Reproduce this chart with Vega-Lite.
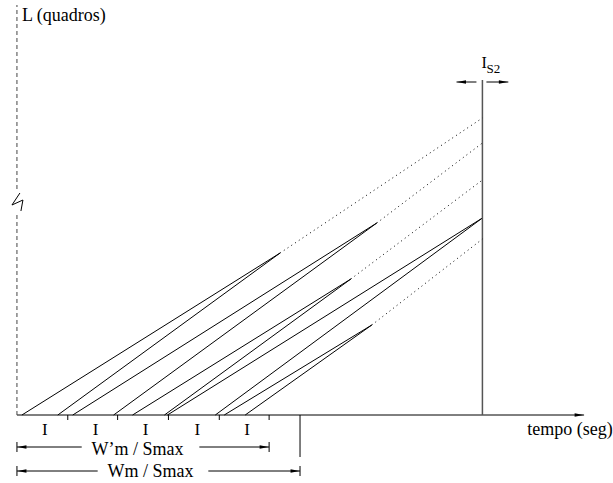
{
  "$schema": "https://vega.github.io/schema/vega-lite/v6.json",
  "width": 613,
  "height": 483,
  "autosize": {"type": "fit", "contains": "padding"},
  "padding": 0,
  "background": "white",
  "config": {"view": {"stroke": null}},
  "datasets": {
    "seg": [
      {"t": 0, "L": 0, "t2": 569, "L2": 0, "k": "s"},
      {"t": 5, "L": 0, "t2": 264, "L2": 162, "k": "s"},
      {"t": 41, "L": 0, "t2": 264, "L2": 162, "k": "s"},
      {"t": 56, "L": 0, "t2": 361, "L2": 192, "k": "s"},
      {"t": 97, "L": 0, "t2": 361, "L2": 192, "k": "s"},
      {"t": 116, "L": 0, "t2": 335, "L2": 136, "k": "s"},
      {"t": 148, "L": 0, "t2": 335, "L2": 136, "k": "s"},
      {"t": 151, "L": 0, "t2": 467, "L2": 197, "k": "s"},
      {"t": 199, "L": 0, "t2": 467, "L2": 197, "k": "s"},
      {"t": 208, "L": 0, "t2": 356, "L2": 90, "k": "s"},
      {"t": 229, "L": 0, "t2": 356, "L2": 90, "k": "s"},
      {"t": 51, "L": 0, "t2": 51, "L2": -5, "k": "s"},
      {"t": 101, "L": 0, "t2": 101, "L2": -5, "k": "s"},
      {"t": 152, "L": 0, "t2": 152, "L2": -5, "k": "s"},
      {"t": 203, "L": 0, "t2": 203, "L2": -5, "k": "s"},
      {"t": 253, "L": 0, "t2": 253, "L2": -5, "k": "s"},
      {"t": 284, "L": 0, "t2": 284, "L2": -42, "k": "s"},
      {"t": 0, "L": -32, "t2": 65, "L2": -32, "k": "s"},
      {"t": 183, "L": -32, "t2": 253, "L2": -32, "k": "s"},
      {"t": 0, "L": -56, "t2": 81, "L2": -56, "k": "s"},
      {"t": 192, "L": -56, "t2": 284, "L2": -56, "k": "s"},
      {"t": 0, "L": -37, "t2": 0, "L2": -27, "k": "s"},
      {"t": 253, "L": -37, "t2": 253, "L2": -27, "k": "s"},
      {"t": 0, "L": -61, "t2": 0, "L2": -51, "k": "s"},
      {"t": 284, "L": -61, "t2": 284, "L2": -51, "k": "s"},
      {"t": 441, "L": 333, "t2": 461, "L2": 333, "k": "s"},
      {"t": 471, "L": 333, "t2": 493, "L2": 333, "k": "s"},
      {"t": 467, "L": 0, "t2": 467, "L2": 335, "k": "g"},
      {"t": 264, "L": 162, "t2": 467, "L2": 297, "k": "d"},
      {"t": 361, "L": 192, "t2": 467, "L2": 272, "k": "d"},
      {"t": 335, "L": 136, "t2": 467, "L2": 235, "k": "d"},
      {"t": 356, "L": 90, "t2": 467, "L2": 176, "k": "d"},
      {"t": 0, "L": 0, "t2": 0, "L2": 200, "k": "a"},
      {"t": 0, "L": 226, "t2": 0, "L2": 410, "k": "a"}
    ],
    "brk": [
      {"o": 1, "t": 3, "L": 222},
      {"o": 2, "t": -5, "L": 210},
      {"o": 3, "t": 6, "L": 215},
      {"o": 4, "t": 4, "L": 204}
    ],
    "heads": [
      {"t": 564, "L": 0, "ang": 0},
      {"t": 5, "L": -32, "ang": 180},
      {"t": 248, "L": -32, "ang": 0},
      {"t": 5, "L": -56, "ang": 180},
      {"t": 279, "L": -56, "ang": 0},
      {"t": 446, "L": 333, "ang": 180},
      {"t": 488, "L": 333, "ang": 0}
    ],
    "itext": [
      {"t": 28, "L": -15, "txt": "I"},
      {"t": 79, "L": -15, "txt": "I"},
      {"t": 129, "L": -15, "txt": "I"},
      {"t": 181, "L": -15, "txt": "I"},
      {"t": 231, "L": -15, "txt": "I"}
    ],
    "ctext": [
      {"t": 121, "L": -35, "txt": "W’m / Smax"},
      {"t": 134, "L": -57, "txt": "Wm / Smax"}
    ],
    "ltext": [
      {"t": 5, "L": 399, "txt": "L (quadros)"},
      {"t": 512, "L": -15, "txt": "tempo (seg)"}
    ]
  },
  "layer": [
    {
      "data": {"name": "seg"},
      "transform": [{"filter": "datum.k == 's'"}],
      "mark": {"type": "rule", "color": "black", "strokeWidth": 1},
      "encoding": {
        "x": {"field": "t", "type": "quantitative", "scale": {"domain": [-17, 596], "nice": false, "zero": false}, "axis": null},
        "y": {"field": "L", "type": "quantitative", "scale": {"domain": [-68, 415], "nice": false, "zero": false}, "axis": null},
        "x2": {"field": "t2"},
        "y2": {"field": "L2"}
      }
    },
    {
      "data": {"name": "seg"},
      "transform": [{"filter": "datum.k == 'g'"}],
      "mark": {"type": "rule", "color": "#555555", "strokeWidth": 1.5},
      "encoding": {
        "x": {"field": "t", "type": "quantitative"},
        "y": {"field": "L", "type": "quantitative"},
        "x2": {"field": "t2"},
        "y2": {"field": "L2"}
      }
    },
    {
      "data": {"name": "seg"},
      "transform": [{"filter": "datum.k == 'd'"}],
      "mark": {"type": "rule", "color": "black", "strokeWidth": 1, "strokeDash": [1, 3.5]},
      "encoding": {
        "x": {"field": "t", "type": "quantitative"},
        "y": {"field": "L", "type": "quantitative"},
        "x2": {"field": "t2"},
        "y2": {"field": "L2"}
      }
    },
    {
      "data": {"name": "seg"},
      "transform": [{"filter": "datum.k == 'a'"}],
      "mark": {"type": "rule", "color": "#444444", "strokeWidth": 1, "strokeDash": [4, 3]},
      "encoding": {
        "x": {"field": "t", "type": "quantitative"},
        "y": {"field": "L", "type": "quantitative"},
        "x2": {"field": "t2"},
        "y2": {"field": "L2"}
      }
    },
    {
      "data": {"name": "brk"},
      "mark": {"type": "line", "color": "black", "strokeWidth": 1},
      "encoding": {
        "x": {"field": "t", "type": "quantitative"},
        "y": {"field": "L", "type": "quantitative"},
        "order": {"field": "o"}
      }
    },
    {
      "data": {"name": "heads"},
      "mark": {"type": "point", "shape": "M1,0L-1,-0.4L-1,0.4Z", "filled": true, "color": "black", "size": 81, "opacity": 1},
      "encoding": {
        "x": {"field": "t", "type": "quantitative"},
        "y": {"field": "L", "type": "quantitative"},
        "angle": {"field": "ang", "type": "quantitative", "scale": null}
      }
    },
    {
      "data": {"name": "itext"},
      "mark": {"type": "text", "align": "center", "baseline": "middle", "color": "black", "font": "Liberation Serif", "fontSize": 17},
      "encoding": {
        "x": {"field": "t", "type": "quantitative"},
        "y": {"field": "L", "type": "quantitative"},
        "text": {"field": "txt"}
      }
    },
    {
      "data": {"name": "ctext"},
      "mark": {"type": "text", "align": "center", "baseline": "middle", "color": "black", "font": "Liberation Serif", "fontSize": 18},
      "encoding": {
        "x": {"field": "t", "type": "quantitative"},
        "y": {"field": "L", "type": "quantitative"},
        "text": {"field": "txt"}
      }
    },
    {
      "data": {"name": "ltext"},
      "mark": {"type": "text", "align": "left", "baseline": "middle", "color": "black", "font": "Liberation Serif", "fontSize": 18},
      "encoding": {
        "x": {"field": "t", "type": "quantitative"},
        "y": {"field": "L", "type": "quantitative"},
        "text": {"field": "txt"}
      }
    },
    {
      "data": {"values": [{"t": 466, "L": 352, "txt": "I"}]},
      "mark": {"type": "text", "align": "left", "baseline": "middle", "color": "black", "font": "Liberation Serif", "fontSize": 16},
      "encoding": {
        "x": {"field": "t", "type": "quantitative"},
        "y": {"field": "L", "type": "quantitative"},
        "text": {"field": "txt"}
      }
    },
    {
      "data": {"values": [{"t": 471, "L": 346, "txt": "S2"}]},
      "mark": {"type": "text", "align": "left", "baseline": "middle", "color": "black", "font": "Liberation Serif", "fontSize": 13},
      "encoding": {
        "x": {"field": "t", "type": "quantitative"},
        "y": {"field": "L", "type": "quantitative"},
        "text": {"field": "txt"}
      }
    }
  ]
}
